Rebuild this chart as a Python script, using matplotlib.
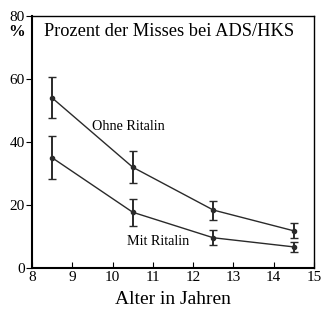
import matplotlib
matplotlib.use("Agg")
import matplotlib.pyplot as plt

# Data
ages = [8.5, 10.5, 12.5, 14.5]
ohne = [54, 32, 18.4, 11.8]
ohne_lo = [47.5, 27, 15.1, 9.6]
ohne_hi = [60.5, 37, 21.4, 14.2]
mit = [35, 17.7, 9.6, 6.7]
mit_lo = [28.2, 13.4, 7.3, 5.1]
mit_hi = [42, 21.9, 12, 8.4]
x_ticks = [8, 9, 10, 11, 12, 13, 14, 15]
y_ticks = [0, 20, 40, 60, 80]

plt.rcParams['font.family'] = ['Liberation Serif', 'DejaVu Serif']

fig = plt.figure(figsize=(3.21, 3.12), dpi=100)
ax = fig.add_axes([32 / 321, 44 / 312, 282 / 321, 252 / 312])

for vals, lo, hi in [(ohne, ohne_lo, ohne_hi), (mit, mit_lo, mit_hi)]:
    err = [[v - l for v, l in zip(vals, lo)], [h - v for v, h in zip(vals, hi)]]
    ax.errorbar(ages, vals, yerr=err, color='#2a2a2a', linewidth=1.0,
                elinewidth=1.4, capsize=3, capthick=1.0,
                marker='o', markersize=3)

ax.set_xlim(8, 15)
ax.set_ylim(0, 80)
ax.set_xticks(x_ticks)
ax.set_yticks(y_ticks)
ax.tick_params(axis='x', direction='in', length=4, labelsize=11, pad=2)
ax.tick_params(axis='y', direction='out', length=4, labelsize=11, pad=1)
for s in ax.spines.values():
    s.set_linewidth(1.0)
ax.spines['left'].set_linewidth(1.5)
ax.spines['bottom'].set_linewidth(1.5)

ax.text(0.043, 0.94, 'Prozent der Misses bei ADS/HKS', transform=ax.transAxes,
        fontsize=13.2, va='center', ha='left')
ax.text(9.5, 44.8, 'Ohne Ritalin', fontsize=10.2, va='center', ha='left')
ax.text(10.35, 8.3, 'Mit Ritalin', fontsize=10.2, va='center', ha='left')
fig.text(17 / 321, 1 - 32 / 312, '%', fontsize=12, fontweight='bold',
         ha='center', va='center')
ax.set_xlabel('Alter in Jahren', fontsize=14, labelpad=5)

fig.savefig('out.png', dpi=100)
